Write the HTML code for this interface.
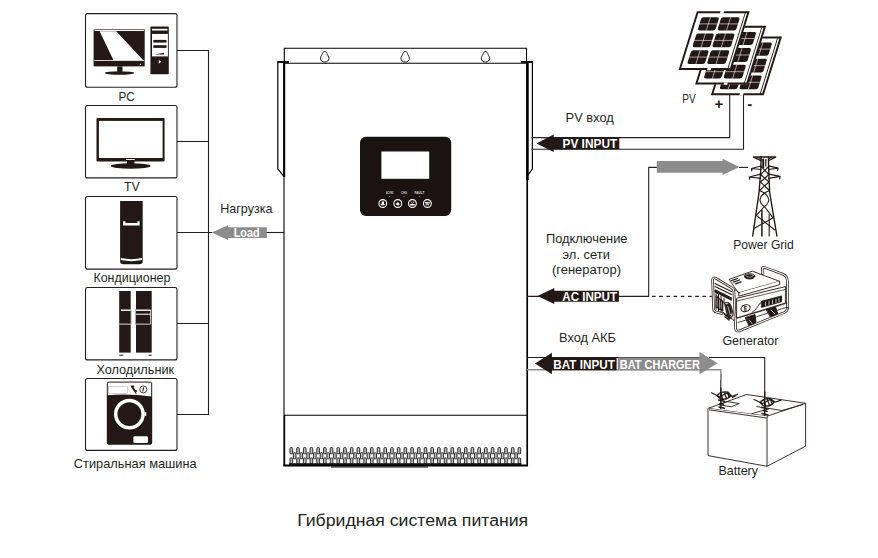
<!DOCTYPE html>
<html><head><meta charset="utf-8">
<style>
html,body{margin:0;padding:0;background:#fff;}
body{width:878px;height:558px;overflow:hidden;font-family:"Liberation Sans",sans-serif;}
svg{display:block;}
text{font-family:"Liberation Sans",sans-serif;fill:#231f20;}
.lbl{font-size:12.7px;}
.w{fill:#fff;font-weight:bold;}
</style></head><body>
<svg width="878" height="558" viewBox="0 0 878 558">
<rect width="878" height="558" fill="#fff"/>

<!-- ===== LEFT: appliance boxes ===== -->
<g id="boxes" fill="#fff" stroke="#231f20" stroke-width="1.1">
<rect x="85.5" y="13.6" width="91.5" height="73.7" rx="2"/>
<rect x="85.5" y="105.5" width="91.5" height="72.4" rx="2"/>
<rect x="85.5" y="196.5" width="91.5" height="72.6" rx="2"/>
<rect x="85.5" y="287.5" width="91.5" height="72.4" rx="2"/>
<rect x="85.5" y="378.5" width="91.5" height="71.9" rx="2"/>
</g>
<!-- bus lines -->
<g id="bus" fill="none" stroke="#231f20" stroke-width="1.1">
<path d="M177 50.5H208.5V414.5H177"/>
<path d="M177 141.5H208.5"/>
<path d="M177 232.5H212"/>
<path d="M177 323.5H208.5"/>
<path d="M266 232.5H284"/>
</g>
<!-- Load arrow -->
<path d="M211.6 232.6L228 225.2V227.3H266.8V238H228V240Z" fill="#8c8c8c"/>
<text class="w" x="233.7" y="237.1" font-size="12.6" textLength="25.8" lengthAdjust="spacingAndGlyphs">Load</text>

<!-- labels left -->
<text class="lbl" x="118.5" y="100.5" textLength="16.3" lengthAdjust="spacingAndGlyphs">PC</text>
<text class="lbl" x="124" y="191.3" textLength="15.8" lengthAdjust="spacingAndGlyphs">TV</text>
<text class="lbl" x="93.4" y="282" textLength="77" lengthAdjust="spacingAndGlyphs">Кондиционер</text>
<text class="lbl" x="96.4" y="373.8" textLength="77.7" lengthAdjust="spacingAndGlyphs">Холодильник</text>
<text class="lbl" x="73.8" y="467.9" textLength="122.9" lengthAdjust="spacingAndGlyphs">Стиральная машина</text>
<text class="lbl" x="220.3" y="212.7" textLength="52.1" lengthAdjust="spacingAndGlyphs">Нагрузка</text>

<!-- ===== INVERTER ===== -->
<g id="inverter" fill="none" stroke="#000">
<!-- top bracket -->
<path d="M284.3 63.3V48.3H526.5V63.3" stroke-width="1.1"/>
<path d="M284.3 63.3H526.5" stroke-width="1.1"/>
<!-- side flanges -->
<path d="M284 61.8H277.8V168.8L284 176.5" stroke-width="1.2"/>
<path d="M277.7 62H289" stroke-width="1.8"/><path d="M284.2 62V177" stroke-width="2"/>
<path d="M527 61.8H532.4V168.8L527 176.5" stroke-width="1.2"/>
<!-- body -->
<path d="M284 63V415" stroke-width="1.1"/><path d="M284.3 415V465.6" stroke-width="1.8"/><path d="M527.2 63V465.6" stroke-width="1.7"/>
<path d="M527.4 62V180" stroke-width="2.6"/><path d="M521 62H532.9" stroke-width="1.8"/>
<path d="M284 415.3H527" stroke-width="1.1"/>
<path d="M283.3 465.6H528" stroke-width="2"/><path d="M331 467H428" stroke-width="1.2"/>
</g>
<!-- keyholes -->
<g id="holes" fill="#fff" stroke="#000" stroke-width="0.9" transform="translate(0 -0.9)">
<path d="M324.7 52.4c1.6 0 2.2 1.6 2.6 3c.5 1 1.6 2.2 1.6 3.9c0 2.2-1.8 3.7-4.2 3.7s-4.2-1.5-4.2-3.7c0-1.7 1.1-2.9 1.6-3.9c.4-1.4 1-3 2.6-3z"/>
<path transform="translate(80.5 0)" d="M324.7 52.4c1.6 0 2.2 1.6 2.6 3c.5 1 1.6 2.2 1.6 3.9c0 2.2-1.8 3.7-4.2 3.7s-4.2-1.5-4.2-3.7c0-1.7 1.1-2.9 1.6-3.9c.4-1.4 1-3 2.6-3z"/>
<path transform="translate(160.8 0)" d="M324.7 52.4c1.6 0 2.2 1.6 2.6 3c.5 1 1.6 2.2 1.6 3.9c0 2.2-1.8 3.7-4.2 3.7s-4.2-1.5-4.2-3.7c0-1.7 1.1-2.9 1.6-3.9c.4-1.4 1-3 2.6-3z"/>
</g>

<!-- display panel -->
<rect x="360" y="136.7" width="91.2" height="79.3" rx="6" fill="#1a1311"/>
<rect x="381.4" y="151.5" width="47.8" height="27.3" fill="#fff"/>
<g fill="none" stroke="#fff" stroke-width="1.1">
<circle cx="382.8" cy="203.5" r="3.9"/><circle cx="397.8" cy="203.5" r="3.9"/>
<circle cx="412.4" cy="203.5" r="3.9"/><circle cx="427.4" cy="203.5" r="3.9"/>
</g>
<g fill="#fff">
<text x="386" y="193.7" font-size="3.4" font-weight="bold" style="fill:#ddd" textLength="7.5" lengthAdjust="spacingAndGlyphs">AC/INV</text><text x="401" y="193.7" font-size="3.4" font-weight="bold" style="fill:#ddd" textLength="6" lengthAdjust="spacingAndGlyphs">CHG</text><text x="414.5" y="193.7" font-size="3.4" font-weight="bold" style="fill:#ddd" textLength="9.8" lengthAdjust="spacingAndGlyphs">FAULT</text>
<circle cx="389.7" cy="196.3" r="0.6" fill="#999"/><circle cx="404" cy="196.3" r="0.6" fill="#999"/><circle cx="419.3" cy="196.3" r="0.6" fill="#999"/>
<path d="M380.8 205.3h4v-1.2h-0.8v-2.5h-2.4v2.5h-0.8z"/><path d="M396.3 205.2h3v-2.2h-0.7l-0.8-1.2l-0.8 1.2h-0.7z"/>
<path d="M410 204h4.8v1.5h-4.8zM411 201.5l1.4 1.5l1.4-1.5h0.8l-2.2 2.3l-2.2-2.3z"/><path d="M425 202h4.8v1.5h-4.8zM425.8 204.3h3.2v1h-3.2z"/>
</g>

<!-- ===== RIGHT side ===== -->
<g id="rlines" fill="none" stroke="#231f20" stroke-width="1.1">
<!-- PV -->
<path d="M531.5 137.6H729.7V95"/>
<path d="M531.5 149.2H743.5V93"/>
<!-- AC -->
<path d="M527 296.4H648.7V167.4H657"/>
<path d="M739 167.4H748"/>
<path d="M652 296.4H714" stroke-width="1.3" stroke-dasharray="3.6 3.6"/>
<!-- BAT -->
<path d="M527 357.5H700"/>
<path d="M709 357.5H764.7V415.5"/>
<path d="M720.8 374V408.5"/>
</g>
<path d="M527 369.7H720.8V380" fill="none" stroke="#8c8c8c" stroke-width="1.4"/>

<!-- PV INPUT arrow -->
<path d="M536.4 143.4L553.7 134.6V137.7H619.3V149.2H553.7V152Z" fill="#231815"/>
<text class="w" x="562.5" y="147.8" font-size="13.5" textLength="54.7" lengthAdjust="spacingAndGlyphs">PV INPUT</text>
<!-- AC INPUT arrow -->
<path d="M537.5 296.1L554.3 287.9V290.8H618.9V301.7H554.3V304Z" fill="#231815"/>
<text class="w" x="562.3" y="300.6" font-size="13.5" textLength="54.7" lengthAdjust="spacingAndGlyphs">AC INPUT</text>
<!-- BAT arrows -->
<path d="M535 363.5L551.9 352.8V357.5H616.6V370.2H551.9V374.2Z" fill="#231815"/>
<path d="M617.8 357.5H699.5V351.9L717.6 363.2L699.5 374.3V370.2H617.8Z" fill="#8c8c8c"/>
<text class="w" x="553.3" y="368.9" font-size="13.5" textLength="61.5" lengthAdjust="spacingAndGlyphs">BAT INPUT</text>
<text class="w" x="619.8" y="368.9" font-size="13.5" textLength="80" lengthAdjust="spacingAndGlyphs">BAT CHARGER</text>
<!-- gray grid arrow -->
<path d="M656.8 161H722.5V158.7L739.6 167.1L722.5 175V172.7H656.8Z" fill="#8c8c8c"/>

<!-- right labels -->
<text class="lbl" x="565.6" y="122" font-size="13" textLength="48.2" lengthAdjust="spacingAndGlyphs">PV вход</text>
<text class="lbl" x="546" y="242.8" textLength="81.5" lengthAdjust="spacingAndGlyphs">Подключение</text>
<text class="lbl" x="562.5" y="258.7" textLength="47.5" lengthAdjust="spacingAndGlyphs">эл. сети</text>
<text class="lbl" x="552" y="274.3" textLength="69" lengthAdjust="spacingAndGlyphs">(генератор)</text>
<text class="lbl" x="559" y="341.8" textLength="57" lengthAdjust="spacingAndGlyphs">Вход АКБ</text>
<text class="lbl" x="682.2" y="103.4" textLength="13.4" lengthAdjust="spacingAndGlyphs">PV</text>
<text class="lbl" x="733.2" y="249.2" textLength="60.6" lengthAdjust="spacingAndGlyphs">Power Grid</text>
<text class="lbl" x="722.4" y="344.7" textLength="56" lengthAdjust="spacingAndGlyphs">Generator</text>
<text class="lbl" x="718.5" y="474.5" textLength="39.5" lengthAdjust="spacingAndGlyphs">Battery</text>
<text x="714.4" y="109.3" font-size="15" font-weight="bold">+</text>
<text x="747.3" y="108.5" font-size="15" font-weight="bold">-</text>

<!-- caption -->
<text x="297.2" y="525.5" font-size="15.6" textLength="231" lengthAdjust="spacingAndGlyphs">Гибридная система питания</text>


<!-- PC icon -->
<g id="pc">
<rect x="93.6" y="29.3" width="51.1" height="37.1" fill="#231815"/>
<rect x="94.4" y="29.9" width="49.5" height="1.1" fill="#fff"/>
<path d="M99.6 31.2H116.2L143.3 60.2H113.5Z" fill="#fff"/>
<rect x="94.2" y="60" width="50" height="0.8" fill="#fff"/>
<rect x="139.8" y="63.8" width="1.3" height="1.3" fill="#fff"/>
<rect x="117.2" y="66.4" width="5.3" height="5.5" fill="#231815"/>
<ellipse cx="119.5" cy="73" rx="14.6" ry="1.7" fill="#231815"/>
<rect x="150.4" y="26.6" width="18.4" height="47.7" rx="1" fill="#231815"/>
<rect x="152" y="28.8" width="15.5" height="1.7" fill="#fff"/>
<rect x="152" y="33.9" width="15.9" height="22.5" fill="#fff"/>
<rect x="152" y="32.2" width="15.9" height="1" fill="#231815"/>
<rect x="153.3" y="39.9" width="13.2" height="2.7" fill="#231815"/>
<rect x="153.3" y="45.2" width="13.2" height="2.7" fill="#231815"/>
<path d="M155 54.5l9-1.8v1.8z" fill="#231815"/>
<path d="M158.8 60l2.6 1.7l-2.6 1.7z" fill="#fff"/>
</g>
<!-- TV icon -->
<g id="tv">
<rect x="96.5" y="118" width="68.1" height="43.4" rx="0.8" fill="#231815"/>
<rect x="98.9" y="120.9" width="63.7" height="37.1" fill="#fff"/>
<rect x="126.1" y="159" width="8.6" height="0.9" fill="#fff"/>
<rect x="127" y="161" width="7.4" height="3" fill="#231815"/>
<ellipse cx="130.7" cy="166" rx="19.9" ry="2.7" fill="#231815"/>
</g>
<!-- AC icon -->
<g id="ac">
<path d="M120.1 201H142.7V261.5Q142.7 264.3 139.5 264.3H123.3Q120.1 264.3 120.1 261.5Z" fill="#231815"/>
<path d="M123.1 221.2H125.4V222.9H137.4V221.2H139.6V225.4H123.1Z" fill="#fff"/>
<path d="M120.8 258.1Q131.4 260.3 142 258.1V260Q131.4 262.3 120.8 260Z" fill="#fff"/>
</g>
<!-- Fridge icon -->
<g id="fridge">
<rect x="119.2" y="291" width="11.5" height="61.6" fill="#231815"/>
<rect x="136" y="291" width="15.7" height="61.6" fill="#231815"/>
<rect x="119.2" y="354.7" width="4.2" height="1" fill="#231815"/>
<rect x="148.6" y="354.7" width="3.1" height="1" fill="#231815"/>
<rect x="120.8" y="309.5" width="29.8" height="1.4" fill="#fff"/>
<rect x="136" y="313.7" width="14.6" height="1" fill="#fff"/>
<rect x="119.2" y="323.7" width="31.4" height="0.8" fill="#fff"/>
<rect x="150" y="310" width="0.7" height="14" fill="#fff"/>
<rect x="131.2" y="310.9" width="4.3" height="12.8" fill="#fff"/>
<rect x="130.7" y="309.5" width="0.6" height="15" fill="#231815" opacity="0.6"/>
<rect x="135.4" y="309.5" width="0.6" height="15" fill="#231815" opacity="0.6"/>
</g>
<!-- Washer icon -->
<g id="washer">
<rect x="107.3" y="382.1" width="44.4" height="61.9" rx="1.5" fill="#fff" stroke="#231815" stroke-width="1"/>
<path d="M107 395.3Q129 393.2 152 396.6V443Q152 444.4 150.6 444.4H108.4Q107 444.4 107 443Z" fill="#231815"/>
<rect x="108.7" y="386.3" width="18.6" height="7" fill="#fff" stroke="#aaa" stroke-width="0.5"/>
<path d="M130.7 385.5h3.5v1.2h-1l2.3 3.5h1.5v1.6h-1.5l1.5 1.7h-1.6l-3.8-5.8z" fill="#231815"/>
<circle cx="143.3" cy="389.4" r="3.5" fill="#fff" stroke="#231815" stroke-width="0.8"/>
<path d="M143.8 387.2l-1 4.3" stroke="#231815" stroke-width="1" fill="none"/>
<circle cx="129.4" cy="414.1" r="13.7" fill="none" stroke="#fff" stroke-width="3.5"/>
<rect x="144.5" y="412.2" width="1.8" height="3.6" fill="#fff"/>
<rect x="133.4" y="436.3" width="14.6" height="6.7" rx="1.2" fill="#fff"/>
</g>

<!-- Solar panels -->
<g id="solar">
<g transform="translate(729.9 37.4) matrix(1 0 -0.3116 1 0 0)">
<rect x="-0.6" y="-0.6" width="52" height="58" fill="#fff"/>
<rect x="0" y="0" width="50.8" height="56.8" fill="none" stroke="#231815" stroke-width="2"/>
<path d="M47.9 0V56.8" stroke="#231815" stroke-width="0.9" fill="none"/>
<rect x="22.6" y="-1.2" width="3.6" height="2.4" fill="#fff"/>
<rect x="27.5" y="55.6" width="3.6" height="2.4" fill="#fff"/>
<rect x="5.6" y="5.1" width="17.7" height="13.2" rx="2" fill="#231815"/>
<path d="M14.4 5.1V18.3M5.6 11.7H23.3" stroke="#fff" stroke-width="0.55" fill="none"/>
<rect x="25.3" y="5.1" width="18.7" height="13.2" rx="2" fill="#231815"/>
<path d="M34.6 5.1V18.3M25.3 11.7H44" stroke="#fff" stroke-width="0.55" fill="none"/>
<rect x="5.6" y="21.3" width="17.7" height="13.8" rx="2" fill="#231815"/>
<path d="M14.4 21.3V35.1M5.6 28.2H23.3" stroke="#fff" stroke-width="0.55" fill="none"/>
<rect x="25.3" y="21.3" width="18.7" height="13.8" rx="2" fill="#231815"/>
<path d="M34.6 21.3V35.1M25.3 28.2H44" stroke="#fff" stroke-width="0.55" fill="none"/>
<rect x="5.6" y="38" width="17.7" height="13.8" rx="2" fill="#231815"/>
<path d="M14.4 38V51.8M5.6 44.9H23.3" stroke="#fff" stroke-width="0.55" fill="none"/>
<rect x="25.3" y="38" width="18.7" height="13.8" rx="2" fill="#231815"/>
<path d="M34.6 38V51.8M25.3 44.9H44" stroke="#fff" stroke-width="0.55" fill="none"/>
</g>
<g transform="translate(714.1 26.8) matrix(1 0 -0.3116 1 0 0)">
<rect x="-0.6" y="-0.6" width="52" height="58" fill="#fff"/>
<rect x="0" y="0" width="50.8" height="56.8" fill="none" stroke="#231815" stroke-width="2"/>
<path d="M47.9 0V56.8" stroke="#231815" stroke-width="0.9" fill="none"/>
<rect x="22.6" y="-1.2" width="3.6" height="2.4" fill="#fff"/>
<rect x="27.5" y="55.6" width="3.6" height="2.4" fill="#fff"/>
<rect x="5.6" y="5.1" width="17.7" height="13.2" rx="2" fill="#231815"/>
<path d="M14.4 5.1V18.3M5.6 11.7H23.3" stroke="#fff" stroke-width="0.55" fill="none"/>
<rect x="25.3" y="5.1" width="18.7" height="13.2" rx="2" fill="#231815"/>
<path d="M34.6 5.1V18.3M25.3 11.7H44" stroke="#fff" stroke-width="0.55" fill="none"/>
<rect x="5.6" y="21.3" width="17.7" height="13.8" rx="2" fill="#231815"/>
<path d="M14.4 21.3V35.1M5.6 28.2H23.3" stroke="#fff" stroke-width="0.55" fill="none"/>
<rect x="25.3" y="21.3" width="18.7" height="13.8" rx="2" fill="#231815"/>
<path d="M34.6 21.3V35.1M25.3 28.2H44" stroke="#fff" stroke-width="0.55" fill="none"/>
<rect x="5.6" y="38" width="17.7" height="13.8" rx="2" fill="#231815"/>
<path d="M14.4 38V51.8M5.6 44.9H23.3" stroke="#fff" stroke-width="0.55" fill="none"/>
<rect x="25.3" y="38" width="18.7" height="13.8" rx="2" fill="#231815"/>
<path d="M34.6 38V51.8M25.3 44.9H44" stroke="#fff" stroke-width="0.55" fill="none"/>
</g>
<g transform="translate(697.6 12.2) matrix(1 0 -0.3116 1 0 0)">
<rect x="-0.6" y="-0.6" width="52" height="58" fill="#fff"/>
<rect x="0" y="0" width="50.8" height="56.8" fill="none" stroke="#231815" stroke-width="2"/>
<path d="M47.9 0V56.8" stroke="#231815" stroke-width="0.9" fill="none"/>
<rect x="22.6" y="-1.2" width="3.6" height="2.4" fill="#fff"/>
<rect x="27.5" y="55.6" width="3.6" height="2.4" fill="#fff"/>
<rect x="5.6" y="5.1" width="17.7" height="13.2" rx="2" fill="#231815"/>
<path d="M14.4 5.1V18.3M5.6 11.7H23.3" stroke="#fff" stroke-width="0.55" fill="none"/>
<rect x="25.3" y="5.1" width="18.7" height="13.2" rx="2" fill="#231815"/>
<path d="M34.6 5.1V18.3M25.3 11.7H44" stroke="#fff" stroke-width="0.55" fill="none"/>
<rect x="5.6" y="21.3" width="17.7" height="13.8" rx="2" fill="#231815"/>
<path d="M14.4 21.3V35.1M5.6 28.2H23.3" stroke="#fff" stroke-width="0.55" fill="none"/>
<rect x="25.3" y="21.3" width="18.7" height="13.8" rx="2" fill="#231815"/>
<path d="M34.6 21.3V35.1M25.3 28.2H44" stroke="#fff" stroke-width="0.55" fill="none"/>
<rect x="5.6" y="38" width="17.7" height="13.8" rx="2" fill="#231815"/>
<path d="M14.4 38V51.8M5.6 44.9H23.3" stroke="#fff" stroke-width="0.55" fill="none"/>
<rect x="25.3" y="38" width="18.7" height="13.8" rx="2" fill="#231815"/>
<path d="M34.6 38V51.8M25.3 44.9H44" stroke="#fff" stroke-width="0.55" fill="none"/>
</g>
</g>
<!-- vents -->
<g id="vents" fill="#c4c4c4" stroke="#111" stroke-width="0.9">
<rect x="290" y="447.6" width="2.6" height="6.2" rx="0.8"/><rect x="290" y="458" width="2.6" height="5.5" rx="0.8"/>
<rect x="293.35" y="452.8" width="2.6" height="6" rx="0.8"/>
<rect x="296.71" y="447.6" width="2.6" height="6.2" rx="0.8"/><rect x="296.71" y="458" width="2.6" height="5.5" rx="0.8"/>
<rect x="300.06" y="452.8" width="2.6" height="6" rx="0.8"/>
<rect x="303.42" y="447.6" width="2.6" height="6.2" rx="0.8"/><rect x="303.42" y="458" width="2.6" height="5.5" rx="0.8"/>
<rect x="306.77" y="452.8" width="2.6" height="6" rx="0.8"/>
<rect x="310.13" y="447.6" width="2.6" height="6.2" rx="0.8"/><rect x="310.13" y="458" width="2.6" height="5.5" rx="0.8"/>
<rect x="313.48" y="452.8" width="2.6" height="6" rx="0.8"/>
<rect x="316.84" y="447.6" width="2.6" height="6.2" rx="0.8"/><rect x="316.84" y="458" width="2.6" height="5.5" rx="0.8"/>
<rect x="320.19" y="452.8" width="2.6" height="6" rx="0.8"/>
<rect x="323.54" y="447.6" width="2.6" height="6.2" rx="0.8"/><rect x="323.54" y="458" width="2.6" height="5.5" rx="0.8"/>
<rect x="326.9" y="452.8" width="2.6" height="6" rx="0.8"/>
<rect x="330.25" y="447.6" width="2.6" height="6.2" rx="0.8"/><rect x="330.25" y="458" width="2.6" height="5.5" rx="0.8"/>
<rect x="333.61" y="452.8" width="2.6" height="6" rx="0.8"/>
<rect x="336.96" y="447.6" width="2.6" height="6.2" rx="0.8"/><rect x="336.96" y="458" width="2.6" height="5.5" rx="0.8"/>
<rect x="340.32" y="452.8" width="2.6" height="6" rx="0.8"/>
<rect x="343.67" y="447.6" width="2.6" height="6.2" rx="0.8"/><rect x="343.67" y="458" width="2.6" height="5.5" rx="0.8"/>
<rect x="347.03" y="452.8" width="2.6" height="6" rx="0.8"/>
<rect x="350.38" y="447.6" width="2.6" height="6.2" rx="0.8"/><rect x="350.38" y="458" width="2.6" height="5.5" rx="0.8"/>
<rect x="353.73" y="452.8" width="2.6" height="6" rx="0.8"/>
<rect x="357.09" y="447.6" width="2.6" height="6.2" rx="0.8"/><rect x="357.09" y="458" width="2.6" height="5.5" rx="0.8"/>
<rect x="360.44" y="452.8" width="2.6" height="6" rx="0.8"/>
<rect x="363.8" y="447.6" width="2.6" height="6.2" rx="0.8"/><rect x="363.8" y="458" width="2.6" height="5.5" rx="0.8"/>
<rect x="367.15" y="452.8" width="2.6" height="6" rx="0.8"/>
<rect x="370.51" y="447.6" width="2.6" height="6.2" rx="0.8"/><rect x="370.51" y="458" width="2.6" height="5.5" rx="0.8"/>
<rect x="373.86" y="452.8" width="2.6" height="6" rx="0.8"/>
<rect x="377.21" y="447.6" width="2.6" height="6.2" rx="0.8"/><rect x="377.21" y="458" width="2.6" height="5.5" rx="0.8"/>
<rect x="380.57" y="452.8" width="2.6" height="6" rx="0.8"/>
<rect x="383.92" y="447.6" width="2.6" height="6.2" rx="0.8"/><rect x="383.92" y="458" width="2.6" height="5.5" rx="0.8"/>
<rect x="387.28" y="452.8" width="2.6" height="6" rx="0.8"/>
<rect x="390.63" y="447.6" width="2.6" height="6.2" rx="0.8"/><rect x="390.63" y="458" width="2.6" height="5.5" rx="0.8"/>
<rect x="393.99" y="452.8" width="2.6" height="6" rx="0.8"/>
<rect x="397.34" y="447.6" width="2.6" height="6.2" rx="0.8"/><rect x="397.34" y="458" width="2.6" height="5.5" rx="0.8"/>
<rect x="400.7" y="452.8" width="2.6" height="6" rx="0.8"/>
<rect x="404.05" y="447.6" width="2.6" height="6.2" rx="0.8"/><rect x="404.05" y="458" width="2.6" height="5.5" rx="0.8"/>
<rect x="407.4" y="452.8" width="2.6" height="6" rx="0.8"/>
<rect x="410.76" y="447.6" width="2.6" height="6.2" rx="0.8"/><rect x="410.76" y="458" width="2.6" height="5.5" rx="0.8"/>
<rect x="414.11" y="452.8" width="2.6" height="6" rx="0.8"/>
<rect x="417.47" y="447.6" width="2.6" height="6.2" rx="0.8"/><rect x="417.47" y="458" width="2.6" height="5.5" rx="0.8"/>
<rect x="420.82" y="452.8" width="2.6" height="6" rx="0.8"/>
<rect x="424.18" y="447.6" width="2.6" height="6.2" rx="0.8"/><rect x="424.18" y="458" width="2.6" height="5.5" rx="0.8"/>
<rect x="427.53" y="452.8" width="2.6" height="6" rx="0.8"/>
<rect x="430.89" y="447.6" width="2.6" height="6.2" rx="0.8"/><rect x="430.89" y="458" width="2.6" height="5.5" rx="0.8"/>
<rect x="434.24" y="452.8" width="2.6" height="6" rx="0.8"/>
<rect x="437.59" y="447.6" width="2.6" height="6.2" rx="0.8"/><rect x="437.59" y="458" width="2.6" height="5.5" rx="0.8"/>
<rect x="440.95" y="452.8" width="2.6" height="6" rx="0.8"/>
<rect x="444.3" y="447.6" width="2.6" height="6.2" rx="0.8"/><rect x="444.3" y="458" width="2.6" height="5.5" rx="0.8"/>
<rect x="447.66" y="452.8" width="2.6" height="6" rx="0.8"/>
<rect x="451.01" y="447.6" width="2.6" height="6.2" rx="0.8"/><rect x="451.01" y="458" width="2.6" height="5.5" rx="0.8"/>
<rect x="454.37" y="452.8" width="2.6" height="6" rx="0.8"/>
<rect x="457.72" y="447.6" width="2.6" height="6.2" rx="0.8"/><rect x="457.72" y="458" width="2.6" height="5.5" rx="0.8"/>
<rect x="461.08" y="452.8" width="2.6" height="6" rx="0.8"/>
<rect x="464.43" y="447.6" width="2.6" height="6.2" rx="0.8"/><rect x="464.43" y="458" width="2.6" height="5.5" rx="0.8"/>
<rect x="467.78" y="452.8" width="2.6" height="6" rx="0.8"/>
<rect x="471.14" y="447.6" width="2.6" height="6.2" rx="0.8"/><rect x="471.14" y="458" width="2.6" height="5.5" rx="0.8"/>
<rect x="474.49" y="452.8" width="2.6" height="6" rx="0.8"/>
<rect x="477.85" y="447.6" width="2.6" height="6.2" rx="0.8"/><rect x="477.85" y="458" width="2.6" height="5.5" rx="0.8"/>
<rect x="481.2" y="452.8" width="2.6" height="6" rx="0.8"/>
<rect x="484.56" y="447.6" width="2.6" height="6.2" rx="0.8"/><rect x="484.56" y="458" width="2.6" height="5.5" rx="0.8"/>
<rect x="487.91" y="452.8" width="2.6" height="6" rx="0.8"/>
<rect x="491.26" y="447.6" width="2.6" height="6.2" rx="0.8"/><rect x="491.26" y="458" width="2.6" height="5.5" rx="0.8"/>
<rect x="494.62" y="452.8" width="2.6" height="6" rx="0.8"/>
<rect x="497.97" y="447.6" width="2.6" height="6.2" rx="0.8"/><rect x="497.97" y="458" width="2.6" height="5.5" rx="0.8"/>
<rect x="501.33" y="452.8" width="2.6" height="6" rx="0.8"/>
<rect x="504.68" y="447.6" width="2.6" height="6.2" rx="0.8"/><rect x="504.68" y="458" width="2.6" height="5.5" rx="0.8"/>
<rect x="508.04" y="452.8" width="2.6" height="6" rx="0.8"/>
<rect x="511.39" y="447.6" width="2.6" height="6.2" rx="0.8"/><rect x="511.39" y="458" width="2.6" height="5.5" rx="0.8"/>
<rect x="514.75" y="452.8" width="2.6" height="6" rx="0.8"/>
<rect x="518.1" y="447.6" width="2.6" height="6.2" rx="0.8"/><rect x="518.1" y="458" width="2.6" height="5.5" rx="0.8"/>
<rect x="289" y="463.2" width="232.5" height="1.8" fill="#111" stroke="none"/>
</g>
<!-- Tower -->
<g id="tower" fill="none" stroke="#231815" stroke-width="1.1" stroke-linecap="round" stroke-linejoin="round">
<path d="M753.5 157H775.6" stroke-width="1.5"/>
<path d="M754 157.4L761 160.6M775.2 157.4L768.4 160.6" stroke-width="1.2"/>
<path d="M757.5 157.3L761 159M771.5 157.3L768.4 159" stroke-width="1"/>
<!-- mast legs -->
<path d="M761.2 157L760.7 171L759.1 192L752.7 236" stroke-width="1.4"/>
<path d="M768.4 157L768.8 171L769.6 192L776.9 236" stroke-width="1.4"/>
<path d="M763.2 159.5V167.5" stroke-width="2"/>
<path d="M765.8 159.5V166" stroke-width="1.2"/>
<!-- arm 1 -->
<path d="M761 166L751.5 168.5L761 169.5M751.5 168.5L751.8 170.8" stroke-width="1.2"/>
<path d="M768.6 165.8L778.1 168.2L768.6 169.5M778.1 168.2L777.7 170.5" stroke-width="1.2"/>
<!-- arm 2 -->
<path d="M760.7 174.2L749.3 177L760.7 178.3M749.3 177L749.7 179.2" stroke-width="1.2"/>
<path d="M768.8 174.2L780.1 176.3L768.8 178.3M780.1 176.3L779.7 179" stroke-width="1.2"/>
<!-- braces -->
<path d="M761 166.5L768.8 174.5L760.5 182L769.5 190.5"/>
<path d="M768.6 166.5L760.7 174.5L769 182L759.5 190.5"/>
<path d="M759.5 190.5Q768 194 768.8 200Q768 204.5 764.4 206.5L756.3 215.4L774.8 230"/>
<path d="M769.5 190.5Q760.5 194 759.9 200Q760.5 204.5 764.4 206.5L773.2 217.8L754.3 228.3"/>
<path d="M761.9 210.5V236" stroke-width="1.5"/>
<path d="M769.2 214.6V236" stroke-width="1.1"/>
</g>

<!-- Generator -->
<g id="gen" fill="none" stroke="#231815" stroke-width="0.9" stroke-linejoin="round" stroke-linecap="round">
<!-- right/back loop tube -->
<path d="M762.3 274V269.2Q762.3 266.6 765 267.6L782.5 274Q787.4 275.8 787.4 281.5V308.5" stroke-width="2.6"/>
<path d="M762.3 274V269.2Q762.3 266.6 765 267.6L782.5 274Q787.4 275.8 787.4 281.5V308.5" stroke="#fff" stroke-width="1.1"/>
<!-- tank top -->
<path d="M729.4 279.3L752.3 271.2L779.6 281.3L738.8 292.8Z" fill="#fff"/>
<path d="M738.8 292.8V296.2L779.6 284.7V281.3" fill="#fff"/>
<path d="M731.5 280.6L737.5 278.5M733.5 282.2L739.5 280M735.5 283.8L741 281.8" stroke-width="1.3"/>
<ellipse cx="749.6" cy="276.3" rx="5.2" ry="2.7" fill="#231815"/>
<ellipse cx="749.6" cy="275.5" rx="3.6" ry="1.6" stroke="#fff" stroke-width="0.5"/>
<!-- front panel -->
<path d="M737 298.2L785.4 286.6V303L737 318Z" fill="#fff"/>
<path d="M737 301L785.4 289.4" stroke-width="0.7"/>
<path d="M752 312.5C757 310.5 758.5 303 763 300.5" stroke-width="0.9"/>
<ellipse cx="745.6" cy="308.2" rx="4.7" ry="3.3" transform="rotate(-18 745.6 308.2)" stroke-width="1"/>
<path d="M744.7 306.5v3.6M744.7 306.5h1.8M744.7 308.2h1.5M744.7 310h1.8" stroke-width="0.8"/>
<path d="M761.8 301.3L781.5 295.9V301.7L761.8 307.3Z" fill="#231815"/>
<path d="M765.5 302.1v3.6M769 301.1v3.6M772.5 300.1v3.6M776 299.1v3.7M779 298.3v3.6" stroke="#fff" stroke-width="0.7"/>
<!-- feet / lower -->
<path d="M766.5 309.5L775.5 306.8L778.3 315.5L771.5 318.5Z" fill="#231815"/>
<path d="M745.6 317.4L755 314.6L756 322L749.6 326.4Z" fill="#231815"/>
<path d="M748.5 319l3.5 4.5M771 310l4 4" stroke="#fff" stroke-width="0.7"/>
<path d="M737 318L760 311.5L787 303.2" stroke-width="0.8"/>
<path d="M738 322.5L756 317M757 316.5L768 313.2M777 310.4L787 307.2" stroke-width="0.8"/>
<!-- left end engine scribbles -->
<path d="M715 283.5L731.5 291.5M715 286.5L731.5 294.5M715.5 290L731.5 298" stroke-width="1.1"/>
<path d="M716 293V309.5M718.5 294V311M721 296V312.5M724 298V303" stroke-width="1"/>
<path d="M716.5 300Q720 297 722.5 302Q723 308 719 309.5" stroke-width="1.2"/>
<path d="M724.5 303Q729 301 731 306L733 313.5Q732.5 318 729 318.5L726.5 312Z" stroke-width="1.1"/>
<path d="M727 305.5L730.5 316" stroke-width="1.2"/>
<path d="M722 311.5L734 320.5" stroke-width="1"/>
<path d="M716.5 295.5L719 297V309L716.5 307.5Z" fill="#231815" stroke-width="0.6"/>
<path d="M720.5 299.5L723 301V311L720.5 309.8Z" fill="#231815" stroke-width="0.6"/>
<path d="M725.5 304.5L729.5 303.8L732 312L729.5 317L727.5 313Z" fill="#231815" stroke-width="0.6"/>
<path d="M727.8 306.2L730.3 314.5" stroke="#fff" stroke-width="0.7"/>
<path d="M717.3 298.5V306M721.5 302V308.5" stroke="#fff" stroke-width="0.5"/>
<path d="M715 290L731.5 298.2L731.5 300.5L715 292.3Z" fill="#231815" stroke-width="0.5"/>
<path d="M724 314L730 318.5M725 316.8L729 320" stroke-width="1.4"/>
<!-- left/front loop tube -->
<path d="M787.4 308.5Q787.2 311.2 784.5 312.4L739.5 330.8Q735.9 332.2 735.7 328.6L733.9 291.5Q733.8 288.8 731.3 287.6L716 278.4Q712.5 276.6 712.6 280.4L713.6 309Q713.7 311.4 716 312L722 313.5" stroke-width="2.6"/>
<path d="M787.4 308.5Q787.2 311.2 784.5 312.4L739.5 330.8Q735.9 332.2 735.7 328.6L733.9 291.5Q733.8 288.8 731.3 287.6L716 278.4Q712.5 276.6 712.6 280.4L713.6 309Q713.7 311.4 716 312L722 313.5" stroke="#fff" stroke-width="1.1"/>
<!-- top front rail -->
<path d="M734.5 289.5L740 293" stroke-width="0.8"/>
</g>
<!-- Battery -->
<g id="bat" fill="none" stroke="#231815" stroke-width="0.9" stroke-linejoin="round">
<path d="M708 408.4L746.6 394.5L805.6 403.3L767 416.2Z" fill="#fff"/>
<path d="M708 408.4V455.6L767 466.3V416.2" fill="#fff"/>
<path d="M767 466.3L805.6 446.2V403.3"/>
<path d="M709 409.8L766.5 418"/>
<path d="M751.5 413.8L769.5 408.5L782 410.5L803 404.5"/>
<path d="M769.5 408.5L756.5 406.5"/>
<path d="M727.3 401.6L739.3 403.5L731.2 406.8L719.2 404.8Z"/>
<!-- terminals -->
<g stroke-width="1.25" stroke-linecap="round">
<path d="M711.5 392.8L719.5 396.8L727 393L731.5 396.5L737.5 394.3"/>
<path d="M717 395.8Q721 390.8 728 392.2L731 395.5Q727 400.5 720.5 399Z" stroke-width="1.4"/>
<path d="M721 393.2L722.8 398.8M724.2 392.5L726.4 398.3M727.3 392.5L728.8 396.5"/>
<path d="M718.5 400L724.5 401.2M719 407L724.5 408.2M720 403.5L723.5 404.2" stroke-width="1.4"/>
<path d="M732.5 397.5L735.5 395.8"/>
<path d="M754 399.5L762.5 403.5L770 399.5L775.5 402L781 400.2"/>
<path d="M760 402.5Q764 397.5 771 399L774 402.2Q770 407.2 763.5 405.8Z" stroke-width="1.4"/>
<path d="M764 400L765.8 405.6M767.2 399.3L769.4 405.1M770.3 399.3L771.8 403.3"/>
<path d="M761.5 407.5L768 408.8M762 413.5L768 415M763 410.5L767 411.3" stroke-width="1.4"/>
<path d="M720.8 388V408.5M764.7 392V415.5" stroke-width="1.3"/>
</g>
</g>

<!--ICONS-->
</svg>
</body></html>
